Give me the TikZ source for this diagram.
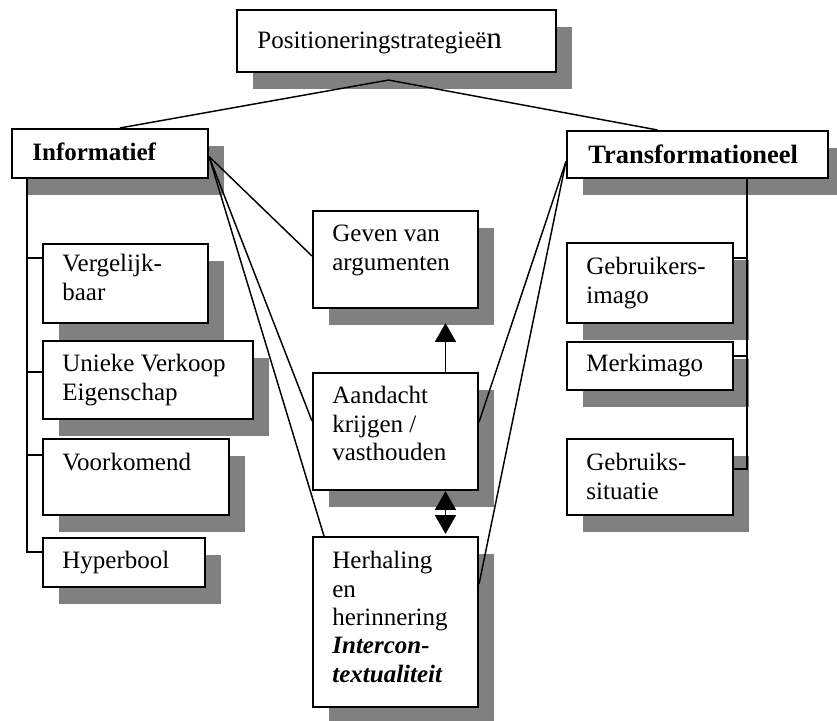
\documentclass[tikz,border=0pt]{standalone}
\usepackage{fontspec}
\setmainfont{Liberation Serif}
\usetikzlibrary{positioning,fit,calc,shadows,arrows.meta}
\definecolor{schaduw}{RGB}{128,128,128}
\newcommand{\regels}[1]{\begin{tabular}[t]{@{}l@{}}#1\end{tabular}}

\begin{document}
\begin{tikzpicture}[x=0.48pt,y=-0.48pt,
	kader/.style={draw,line width=1pt,fill=white,inner sep=0pt,
	drop shadow={shadow xshift=7.7pt,shadow yshift=-8pt,opacity=1,fill=schaduw}},
	tekst/.style={anchor=base west,inner sep=0pt,
	font=\fontsize{12}{13.6}\selectfont},
	lijn/.style={line width=0.7pt},
	pijl/.style={line width=0.9pt,-{Triangle[width=10pt,length=9pt]}},
	dpijl/.style={line width=0.9pt,{Triangle[width=10pt,length=9pt]}-{Triangle[width=10pt,length=9pt]}}]
\useasboundingbox (0,0) rectangle (837,720);
% kaders
\node [kader, fit={(237,10) (556,72)}] (pos) {};
\node [kader, fit={(12,129) (208,178)}] (inf) {};
\node [kader, fit={(567,131) (828,178)}] (tra) {};
\node [kader, fit={(43,244) (208,323)}] (verg) {};
\node [kader, fit={(43,341) (253,419)}] (uvp) {};
\node [kader, fit={(43,439) (229,515)}] (voor) {};
\node [kader, fit={(43,538) (205,587)}] (hyp) {};
\node [kader, fit={(313,211) (478,308)}] (gev) {};
\node [kader, fit={(313,373) (478,490)}] (aan) {};
\node [kader, fit={(313,537) (478,707)}] (her) {};
\node [kader, fit={(567,243) (733,323)}] (gim) {};
\node [kader, fit={(567,342) (733,390)}] (mim) {};
\node [kader, fit={(567,439) (733,515)}] (gsit) {};
% teksten
\node [tekst] (t-pos) at ($(pos.north west)+(21,40)$) {Positioneringstrategieë{\fontsize{15}{15}\selectfont n}};
\node [tekst] (t-inf) at ($(inf.north west)+(21,33)$) {\textbf{Informatief}};
\node [tekst, font=\fontsize{12.7}{14}\selectfont\bfseries] (t-tra) at ($(tra.north west)+(22,34)$) {Transformationeel};
\node [tekst] (t-verg) at ($(verg.north west)+(20,29)$) {\regels{Vergelijk-\\baar}};
\node [tekst] (t-uvp) at ($(uvp.north west)+(20,32)$) {\regels{Unieke Verkoop\\Eigenschap}};
\node [tekst] (t-voor) at ($(voor.north west)+(20,33)$) {Voorkomend};
\node [tekst] (t-hyp) at ($(hyp.north west)+(20,32)$) {Hyperbool};
\node [tekst] (t-gev) at ($(gev.north west)+(20,32)$) {\regels{Geven van\\argumenten}};
\node [tekst] (t-aan) at ($(aan.north west)+(20,32)$) {\regels{Aandacht\\krijgen /\\vasthouden}};
\node [tekst] (t-her) at ($(her.north west)+(20,33)$) {\regels{Herhaling\\en\\herinnering\\{\bfseries\itshape Intercon-}\\{\bfseries\itshape textualiteit}}};
\node [tekst] (t-gim) at ($(gim.north west)+(20,33)$) {\regels{Gebruikers-\\imago}};
\node [tekst] (t-mim) at ($(mim.north west)+(20,31)$) {Merkimago};
\node [tekst] (t-gsit) at ($(gsit.north west)+(20,33)$) {\regels{Gebruiks-\\situatie}};
% lijnen
\coordinate (knik) at ($(pos.south)+(-8,7)$);
\draw [lijn] ($(inf.north)+(10,0)$) -- (knik) -- ($(tra.north)+(-40,0)$);
\coordinate (links) at ($(inf.south west)+(16,0)$);
\draw [lijn] (links) |- ($(hyp.north west)+(0,15)$);
\draw [lijn] ($(verg.north west)+(0,15)$) -- ++(-15,0);
\draw [lijn] ($(uvp.north west)+(0,32)$) -- ++(-15,0);
\draw [lijn] ($(voor.north west)+(0,17)$) -- ++(-15,0);
\coordinate (rechts) at ($(tra.south)+(49.5,0)$);
\draw [lijn] (rechts) |- ($(gsit.north east)+(0,31)$);
\draw [lijn] ($(gim.north east)+(0,16)$) -- ++(14,0);
\draw [lijn] ($(mim.north east)+(0,15)$) -- ++(14,0);
\draw [lijn] ($(inf.east)+(0,3)$) -- ($(gev.north west)+(0,46)$);
\draw [lijn] ($(inf.east)+(0,3)$) -- ($(aan.north west)+(0,49)$);
\draw [lijn] ($(inf.east)+(0,3)$) -- ($(her.north west)+(12,0)$);
\draw [lijn] ($(tra.west)+(0,7)$) -- ($(aan.north east)+(0,50)$);
\draw [lijn] ($(tra.west)+(0,7)$) -- ($(her.north east)+(0,48)$);
% pijlen
\draw [pijl] ($(aan.north)+(50,0)$) -- ($(gev.south)+(50,14)$);
\draw [dpijl] ($(aan.south)+(50,0)$) -- ($(her.north)+(50,-2)$);
\end{tikzpicture}
\end{document}
